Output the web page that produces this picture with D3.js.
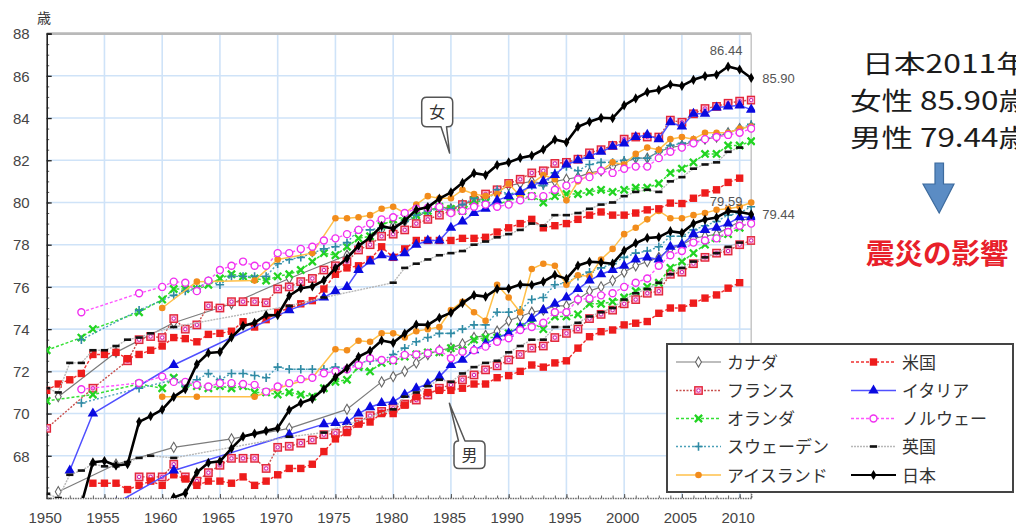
<!DOCTYPE html>
<html><head><meta charset="utf-8">
<script src="https://cdn.jsdelivr.net/npm/d3@7"></script>
<style>body{margin:0;background:#fff;} svg{display:block;}</style>
</head><body>
<svg id="c" width="1016" height="525"></svg>
<script>
const n = null;
const years = [1950,1951,1952,1953,1954,1955,1956,1957,1958,1959,
 1960,1961,1962,1963,1964,1965,1966,1967,1968,1969,
 1970,1971,1972,1973,1974,1975,1976,1977,1978,1979,
 1980,1981,1982,1983,1984,1985,1986,1987,1988,1989,
 1990,1991,1992,1993,1994,1995,1996,1997,1998,1999,
 2000,2001,2002,2003,2004,2005,2006,2007,2008,2009,
 2010,2011];
const yTicks = [68,70,72,74,76,78,80,82,84,86,88];
const xTicks = [1950,1955,1960,1965,1970,1975,1980,1985,1990,1995,2000,2005,2010];

// ---- female ----
const canadaF = [n,70.8,n,n,n,n,72.9,n,n,n, n,74.3,n,n,n,n,75.2,n,n,n, n,76.4,n,n,n,n,77.5,n,n,78.7,
 78.9,79.1,79.3,79.6,79.8,79.7,79.9,80.1,80.2,80.5, 80.8,80.9,81.0,80.9,81.0,81.1,81.2,81.4,81.5,81.7,
 81.9,82.1,82.1,82.4,82.6,82.7,82.9,83.0,83.1,83.3, 83.5,83.6];
const franceF = [69.3,n,n,n,71.2,n,n,72.5,73.5,73.65, 73.6,74.5,74.0,74.2,75.1,75.0,75.3,75.3,75.3,75.25,
 75.9,76.0,76.25,76.4,76.8,77.0,77.2,77.75,78.0,78.4, 78.5,78.7,79.0,79.2,79.4,79.6,79.9,80.1,80.4,80.6,
 80.9,81.1,81.4,81.5,81.85,81.9,82.05,82.35,82.5,82.7, 83.0,83.1,83.1,83.1,83.9,83.8,84.2,84.45,84.55,84.7,
 84.8,84.85];
const netherlandsF = [73.0,n,n,73.6,74.0,n,n,n,74.8,n, 75.4,75.9,75.9,75.9,76.1,76.4,76.6,76.5,76.4,76.3,
 76.5,76.6,76.8,77.2,77.6,77.5,77.9,78.3,78.4,78.9, 79.2,79.3,79.4,79.6,79.8,79.7,79.6,80.1,80.0,79.9,
 80.1,80.2,80.3,80.0,80.3,80.4,80.4,80.5,80.6,80.5, 80.6,80.7,80.7,80.9,81.4,81.6,81.9,82.3,82.3,82.7,
 82.7,82.9];
const swedenF = [n,n,n,73.5,n,n,n,n,74.9,n, n,75.6,75.8,75.9,76.3,76.1,76.5,76.5,76.5,76.5,
 77.1,77.3,77.4,77.6,77.8,77.9,78.1,78.7,78.7,78.8, 78.8,79.1,79.4,79.6,79.7,79.7,79.9,80.2,80.0,80.6,
 80.4,80.5,80.8,80.8,81.4,81.7,81.5,81.8,81.9,81.9, 82.0,82.1,82.1,82.4,82.7,82.8,82.9,83.0,83.2,83.3,
 83.5,83.7];
const icelandF = [n,n,n,n,n,n,n,n,n,n, 75.0,n,n,76.25,n,n,n,n,76.3,n,
 77.3,n,n,77.6,n,79.25,79.25,79.3,79.4,79.7, 79.8,79.5,79.9,80.3,80.2,80.2,80.6,80.4,80.3,80.4,
 80.9,80.3,80.9,81.3,81.1,80.1,81.0,81.3,81.5,81.9, 81.8,82.3,82.6,82.5,83.0,83.1,83.0,83.3,83.3,83.3,
 83.5,83.6];
const usaF = [71.1,71.4,71.6,71.9,72.8,72.8,72.9,72.6,72.8,73.0, 73.2,73.6,73.55,73.4,73.75,73.8,73.9,74.35,74.1,74.45,
 74.8,75.0,75.2,75.35,75.9,76.6,76.9,77.0,77.3,77.9, 77.4,77.8,78.2,78.2,78.2,78.2,78.3,78.3,78.35,78.6,
 78.8,79.0,79.2,78.8,78.9,79.0,79.2,79.4,79.55,79.4, 79.4,79.5,79.65,79.7,79.97,79.95,80.2,80.45,80.6,80.95,
 81.15,n];
const italyF = [n,n,67.3,n,70.0,n,n,n,n,n, n,72.3,n,n,n,n,n,n,n,n,
 n,74.9,n,n,75.5,75.8,76.0,76.8,77.2,77.5, 77.4,77.6,78.0,78.2,78.2,78.8,79.1,79.5,79.7,80.1,
 80.3,80.5,80.8,81.0,81.3,81.8,82.0,82.2,82.4,82.65, 82.8,83.1,83.2,83.0,83.8,83.6,84.2,84.2,84.5,84.55,
 84.6,84.4];
const norwayF = [n,n,n,74.8,n,n,n,n,75.7,n, 76.0,76.25,76.2,75.8,76.3,76.8,77.0,77.2,77.0,77.0,
 77.6,77.6,77.8,77.9,78.2,78.3,78.5,78.7,79.0,79.2, 79.3,79.5,79.7,79.75,79.8,79.5,79.6,79.8,79.9,79.8,
 79.9,80.1,80.3,80.3,80.6,80.8,81.1,81.2,81.5,81.4, 81.6,81.7,81.7,82.1,82.4,82.6,82.8,83.0,83.1,83.2,
 83.3,83.5];
const ukF = [71.2,71.0,72.4,72.4,73.0,73.0,73.2,73.5,73.6,73.8, n,74.1,n,n,n,n,n,n,n,n,
 n,75.1,n,n,75.5,n,n,n,n,n, 76.2,76.9,77.1,77.3,77.5,77.6,77.7,78.0,78.15,78.35,
 78.5,78.7,79.0,78.9,79.4,79.4,79.5,79.7,79.9,80.0, 80.3,80.5,80.6,80.5,81.0,81.2,81.6,81.8,81.9,82.4,
 82.6,n];
const japanF = [61.5,63.0,65.0,65.7,67.69,67.75,67.54,67.60,69.61,69.88, 70.19,70.79,71.16,72.34,72.87,72.92,73.61,74.15,74.30,74.67,
 74.66,75.58,75.94,76.02,76.31,76.89,77.35,77.95,78.33,78.89, 78.76,79.13,79.66,79.78,80.18,80.48,80.93,81.39,81.30,81.77,
 81.90,82.11,82.22,82.51,82.98,82.85,83.59,83.82,84.01,83.99, 84.60,84.93,85.23,85.33,85.59,85.52,85.81,85.99,86.05,86.44,
 86.30,85.90];

// ---- male ----
const canadaM = [n,66.3,n,n,n,n,67.6,n,n,n, n,68.4,n,n,n,n,68.8,n,n,n, n,69.3,n,n,n,n,70.2,n,n,71.5,
 71.75,72.0,72.4,72.8,73.0,73.1,73.3,73.6,73.7,73.9, 74.4,74.6,74.8,74.9,75.1,75.1,75.4,75.8,76.0,76.3,
 76.7,77.0,77.2,77.4,77.8,78.0,78.3,78.4,78.5,78.8, 79.1,79.3];
const franceM = [n,n,n,n,n,n,n,n,67.0,67.0, 67.0,67.6,67.0,66.8,67.2,67.55,67.88,67.88,67.88,67.4,
 68.4,68.45,68.6,68.75,69.0,69.07,69.2,69.6,69.9,70.1, 70.25,70.45,70.64,70.88,71.2,71.36,71.6,71.83,72.07,72.26,
 72.54,72.8,73.1,73.2,73.6,73.8,74.0,74.5,74.7,74.9, 75.2,75.4,75.7,75.8,76.6,76.7,77.1,77.4,77.6,77.7,
 78.0,78.2];
const netherlandsM = [70.6,n,n,n,70.9,n,n,n,71.4,n, 71.2,71.7,71.4,71.3,71.2,71.3,71.2,71.3,71.0,71.0,
 70.9,71.0,70.9,70.8,71.2,71.5,71.6,72.2,72.0,72.4, 72.5,72.7,72.8,72.9,72.9,73.1,73.0,73.5,73.6,73.6,
 73.8,74.1,74.3,74.0,74.6,74.6,74.7,75.2,75.2,75.3, 75.5,75.8,76.0,76.2,76.9,77.2,77.6,78.0,78.3,78.5,
 78.8,79.1];
const swedenM = [n,n,n,70.5,n,n,n,n,71.2,n, n,71.6,71.3,71.6,71.9,71.6,71.9,71.9,71.8,71.7,
 72.2,72.1,72.1,72.1,72.1,72.2,72.1,72.4,72.5,72.5, 72.8,73.1,73.4,73.6,73.8,73.8,74.0,74.2,74.2,74.8,
 74.8,74.9,75.4,75.5,76.1,76.2,76.5,76.7,76.9,77.1, 77.4,77.6,77.7,77.9,78.4,78.4,78.7,78.9,79.1,79.4,
 79.5,79.8];
const icelandM = [n,n,n,n,n,n,n,n,n,n, 70.8,n,n,70.8,n,n,n,n,70.8,n,
 71.2,n,n,71.7,n,73.05,73.0,73.45,73.4,73.8, 73.8,73.6,73.9,74.0,74.1,74.9,75.3,74.8,74.4,76.1,
 75.5,74.8,76.85,77.1,77.0,76.1,76.55,76.5,77.3,77.8, 78.5,78.8,79.2,79.6,79.25,79.25,79.4,79.5,79.65,79.7,
 79.8,80.0];
const usaM = [n,n,n,n,66.7,66.7,66.7,66.4,66.6,66.8, 66.6,67.1,66.9,66.6,66.8,66.8,66.7,67.0,66.6,66.8,
 67.1,67.4,67.4,67.6,68.2,68.8,69.1,69.5,69.6,70.0, 70.0,70.4,70.8,71.0,71.1,71.1,71.2,71.4,71.4,71.7,
 71.8,72.0,72.3,72.2,72.4,72.5,73.1,73.64,73.88,73.96, 74.2,74.28,74.36,74.75,75.0,75.0,75.23,75.47,75.62,75.94,
 76.2,n];
const italyM = [n,n,n,n,n,n,65.75,n,n,n, n,67.3,n,n,n,n,n,n,n,n,
 n,69.0,n,n,69.5,69.55,69.6,70.0,70.3,70.5, 70.56,70.9,71.2,71.4,71.75,72.3,72.55,73.0,73.3,73.6,
 73.8,74.1,74.5,74.9,75.2,75.5,75.9,76.3,76.6,76.8, 77.0,77.3,77.4,77.3,77.9,78.0,78.5,78.7,78.8,79.0,
 79.3,79.3];
const norwayM = [n,n,n,71.15,n,n,n,n,71.45,n, 71.75,71.5,71.5,71.36,71.28,71.44,71.44,71.4,71.36,71.04,
 71.28,71.44,71.63,71.7,71.91,72.0,72.1,72.3,72.62,72.54, 72.54,72.78,72.8,72.86,73.0,72.62,72.93,73.0,73.17,73.4,
 73.57,73.96,74.1,74.3,74.8,74.8,75.4,75.45,75.6,75.7, 76.0,76.2,76.4,77.0,77.5,77.7,78.1,78.2,78.3,78.6,
 78.9,79.0];
const ukM = [66.2,66.0,67.1,67.3,67.6,67.5,67.5,67.7,67.9,68.0, n,67.9,n,n,n,n,n,n,n,n,
 n,68.9,n,n,69.1,n,n,n,n,n, 70.2,70.8,71.0,71.3,71.6,71.5,71.9,72.2,72.4,72.5,
 72.9,73.2,73.5,73.5,74.1,74.1,74.3,74.6,74.8,75.0, 75.4,75.7,75.9,76.2,76.6,76.9,77.2,77.4,77.6,77.9,
 78.1,n];
const japanM = [58.0,60.8,61.9,61.9,63.41,63.60,63.59,63.24,64.98,65.21, 65.32,66.03,66.23,67.21,67.67,67.74,68.35,68.91,69.05,69.18,
 69.31,70.17,70.50,70.70,71.16,71.73,72.15,72.69,72.97,73.46, 73.35,73.79,74.22,74.20,74.54,74.78,75.23,75.61,75.54,75.91,
 75.92,76.11,76.09,76.25,76.57,76.38,77.01,77.19,77.16,77.10, 77.72,78.07,78.32,78.36,78.64,78.56,79.00,79.19,79.29,79.59,
 79.55,79.44];

const countryNames = ["カナダ","フランス","オランダ","スウェーデン","アイスランド","米国","イタリア","ノルウェー","英国","日本"];
const femaleSeries = [canadaF,franceF,netherlandsF,swedenF,icelandF,usaF,italyF,norwayF,ukF,japanF];
const maleSeries = [canadaM,franceM,netherlandsM,swedenM,icelandM,usaM,italyM,norwayM,ukM,japanM];

// styles (not data)
const styles = [
 {stroke:"#7c7c7c", dash:null, w:1.2, mk:"diamondOpen", mc:"#666"},
 {stroke:"#c8504d", dash:"2,1.5", w:1.4, mk:"france", mc:"#e3263a"},
 {stroke:"#35e035", dash:"3,2", w:1.5, mk:"x", mc:"#22d422"},
 {stroke:"#4aa0b8", dash:"2,2", w:1.4, mk:"plus", mc:"#2f8aa4"},
 {stroke:"#ffc04a", dash:null, w:1.5, mk:"dot", mc:"#f28c1c"},
 {stroke:"#f03030", dash:"3,2", w:1.4, mk:"square", mc:"#ee1c1c"},
 {stroke:"#5050ff", dash:null, w:1.5, mk:"tri", mc:"#0a0ae0"},
 {stroke:"#ff55ff", dash:"3,2", w:1.4, mk:"circleOpen", mc:"#f030f0"},
 {stroke:"#b8b8b8", dash:"2,1", w:1.4, mk:"dash", mc:"#111"},
 {stroke:"#000", dash:null, w:2.6, mk:"jp", mc:"#000"}
];

const svg = d3.select("#c");
const X0 = 46.7, X1 = 751.2, Y0 = 33.6, Y1 = 498;
const x = d3.scaleLinear().domain([1950, 2011]).range([X0, X1]);
const y = d3.scaleLinear().domain([66, 88]).range([Y1, Y0]);
const JP = "'Noto Sans CJK JP','Noto Sans CJK SC',sans-serif";
const LAT = "'Liberation Sans',Arial,sans-serif";

// grid
const grid = svg.append("g");
grid.selectAll("line.h").data(yTicks.filter(v=>v<88)).join("line")
  .attr("x1",X0).attr("x2",X1).attr("y1",d=>y(d)).attr("y2",d=>y(d))
  .attr("stroke","#cfe3f8").attr("stroke-width",1.6);
grid.selectAll("line.v").data(xTicks.filter(v=>v>1950)).join("line")
  .attr("x1",d=>x(d)).attr("x2",d=>x(d)).attr("y1",Y0).attr("y2",Y1)
  .attr("stroke","#cfe3f8").attr("stroke-width",1.6);
// frame top/right
svg.append("line").attr("x1",X0).attr("x2",X1).attr("y1",Y0).attr("y2",Y0).attr("stroke","#b9b9b9").attr("stroke-width",2.6);
svg.append("line").attr("x1",X1).attr("x2",X1).attr("y1",Y0).attr("y2",Y1).attr("stroke","#c6c6c6").attr("stroke-width",1.5);

// axes
const minorY = d3.range(66, 88.01, 0.5);
svg.append("g").attr("transform",`translate(${X0},0)`)
  .call(d3.axisLeft(y).tickValues(minorY).tickSize(-2.5).tickFormat(""))
  .call(g=>{g.select(".domain").remove(); g.selectAll("line").attr("stroke","#555");});
svg.append("g").attr("transform",`translate(${X0},0)`)
  .call(d3.axisLeft(y).tickValues(yTicks).tickSize(-5).tickPadding(17).tickFormat(d3.format("d")))
  .call(g=>{
    g.select(".domain").attr("stroke","#222").attr("stroke-width",1.6);
    g.selectAll("line").attr("stroke","#222").attr("stroke-width",1.3);
    g.selectAll("text").attr("font-family",LAT).attr("font-size",15).attr("fill","#454545").attr("dy","0.35em");
  });
const minorX = d3.range(1950, 2012, 1);
svg.append("g").attr("transform",`translate(0,${Y1})`)
  .call(d3.axisBottom(x).tickValues(minorX).tickSize(-2.5).tickFormat(""))
  .call(g=>{g.select(".domain").remove(); g.selectAll("line").attr("stroke","#666");});
svg.append("g").attr("transform",`translate(0,${Y1})`)
  .call(d3.axisBottom(x).tickValues(xTicks).tickSize(-4).tickPadding(14).tickFormat(d3.format("d")))
  .call(g=>{
    g.select(".domain").attr("stroke","#666").attr("stroke-width",1.3).attr("stroke-dasharray","1.5,1");
    g.selectAll("line").attr("stroke","#555");
    g.selectAll("text").attr("font-family",LAT).attr("font-size",15).attr("fill","#454545").attr("dx","-2");
  });

svg.append("text").attr("x",37).attr("y",23).attr("font-family",JP).attr("font-size",14).attr("fill","#333").text("歳");

// clip
svg.append("clipPath").attr("id","plot").append("rect").attr("x",X0).attr("y",Y0-4).attr("width",X1-X0+4).attr("height",Y1-Y0+4);

function marker(g, t, c){
  switch(t){
    case "diamondOpen": g.append("path").attr("d",d3.symbol(d3.symbolDiamond,30)()).attr("fill","#fff").attr("stroke",c).attr("stroke-width",1.1); break;
    case "france":
      g.append("rect").attr("x",-3.7).attr("y",-3.7).attr("width",7.4).attr("height",7.4).attr("fill","#f6b4d0").attr("stroke",c).attr("stroke-width",1.4);
      g.append("circle").attr("r",1.7).attr("fill","#fff").attr("stroke","#d21cb4").attr("stroke-width",1); break;
    case "x": g.append("path").attr("d","M-3.6,-3.6L3.6,3.6M-3.6,3.6L3.6,-3.6").attr("stroke",c).attr("stroke-width",2.3); break;
    case "plus": g.append("path").attr("d","M-4.2,0H4.2M0,-4.2V4.2").attr("stroke",c).attr("stroke-width",1.6); break;
    case "dot": g.append("circle").attr("r",3.3).attr("fill",c); break;
    case "square": g.append("rect").attr("x",-3.7).attr("y",-3.7).attr("width",7.4).attr("height",7.4).attr("fill",c); break;
    case "tri": g.append("path").attr("d",d3.symbol(d3.symbolTriangle,48)()).attr("fill",c); break;
    case "circleOpen": g.append("circle").attr("r",3.5).attr("fill","#fff").attr("stroke",c).attr("stroke-width",1.4); break;
    case "dash": g.append("rect").attr("x",-3.6).attr("y",-1.3).attr("width",7.2).attr("height",2.6).attr("fill",c); break;
    case "jp": g.append("path").attr("d",d3.symbol(d3.symbolDiamond,30)()).attr("fill",c); break;
  }
}

const plot = svg.append("g").attr("clip-path","url(#plot)");
const line = d3.line().x(d=>x(d.yr)).y(d=>y(d.v));
function drawSeries(arr, st){
  const pts = years.map((yr,i)=>({yr, v:arr[i]})).filter(d=>d.v!==null);
  plot.append("path").datum(pts).attr("d",line).attr("fill","none")
    .attr("stroke",st.stroke).attr("stroke-width",st.w).attr("stroke-dasharray",st.dash)
    .attr("stroke-linejoin","round");
  const mg = plot.append("g");
  pts.forEach(d=>{ const g = mg.append("g").attr("transform",`translate(${x(d.yr)},${y(d.v)})`); marker(g, st.mk, st.mc); });
}
for(let i=0;i<countryNames.length;i++){
  drawSeries(maleSeries[i], styles[i]);
  drawSeries(femaleSeries[i], styles[i]);
}

// value labels (Japan)
const lab = (t,xx,yy,anchor)=>svg.append("text").attr("x",xx).attr("y",yy).attr("text-anchor",anchor)
  .attr("font-family",LAT).attr("font-size",13).attr("fill","#555").text(t);
lab("86.44", x(2009)-2, y(86.44)-12, "middle");
lab("85.90", x(2011)+11, y(85.90)+5, "start");
lab("79.59", x(2009)-2, y(79.59)-5, "middle");
lab("79.44", x(2011)+11, y(79.44)+5, "start");

// callouts
function callout(d, txt, tx, ty){
  svg.append("path").attr("d",d).attr("fill","#fff").attr("stroke","#555").attr("stroke-width",1.5).attr("stroke-linejoin","round");
  svg.append("text").attr("x",tx).attr("y",ty).attr("text-anchor","middle").attr("font-family",JP).attr("font-size",16).attr("fill","#333").text(txt);
}
callout("M426.7,97.3H447.7Q452.7,97.3 452.7,102.3V121.7Q452.7,126.7 447.7,126.7H446.5L449.6,153L441,126.7H426.7Q421.7,126.7 421.7,121.7V102.3Q421.7,97.3 426.7,97.3Z","女",437.2,118);
callout("M458.5,441L449.4,403.3L465,441H480Q485,441 485,446V463.5Q485,468.5 480,468.5H459Q454,468.5 454,463.5V446Q454,441 458.5,441Z","男",469.5,461);

// legend
const lg = svg.append("g");
lg.append("rect").attr("x",667).attr("y",344).attr("width",346).attr("height",148).attr("fill","#fff").attr("stroke","#444").attr("stroke-width",2);
const rowsY = [362,390.5,418.5,446.5,475];
countryNames.forEach((name,i)=>{
  const col = i<5?0:1, row = i%5;
  const lx = col===0?676:851, ly = rowsY[row];
  const st = styles[i];
  lg.append("line").attr("x1",lx).attr("x2",lx+45).attr("y1",ly).attr("y2",ly)
    .attr("stroke",st.stroke).attr("stroke-width",Math.min(st.w,2.2)).attr("stroke-dasharray",st.dash);
  const g = lg.append("g").attr("transform",`translate(${lx+22.5},${ly})`); marker(g, st.mk, st.mc);
  lg.append("text").attr("x",lx+51).attr("y",ly+6.5).attr("font-family",JP).attr("font-size",17).attr("fill","#333").text(name);
});

// right annotation
const rt = svg.append("g").attr("font-family",JP).attr("font-size",25).attr("fill","#1c1c1c");
rt.append("text").attr("x",862).attr("y",73).attr("textLength",166).attr("lengthAdjust","spacingAndGlyphs").text("日本2011年");
rt.append("text").attr("x",850).attr("y",110).attr("textLength",180).attr("lengthAdjust","spacingAndGlyphs").text("女性 85.90歳");
rt.append("text").attr("x",850).attr("y",147).attr("textLength",180).attr("lengthAdjust","spacingAndGlyphs").text("男性 79.44歳");
svg.append("path").attr("d","M935,163H943.5V184H954L939.2,213L923,184H935Z").attr("fill","#5b8cc4").attr("stroke","#3d6b9e").attr("stroke-width",1.2);
svg.append("text").attr("x",866).attr("y",264).attr("font-family",JP).attr("font-size",28.5).attr("font-weight","bold").attr("fill","#e8202a").text("震災の影響");
</script>
</body></html>
